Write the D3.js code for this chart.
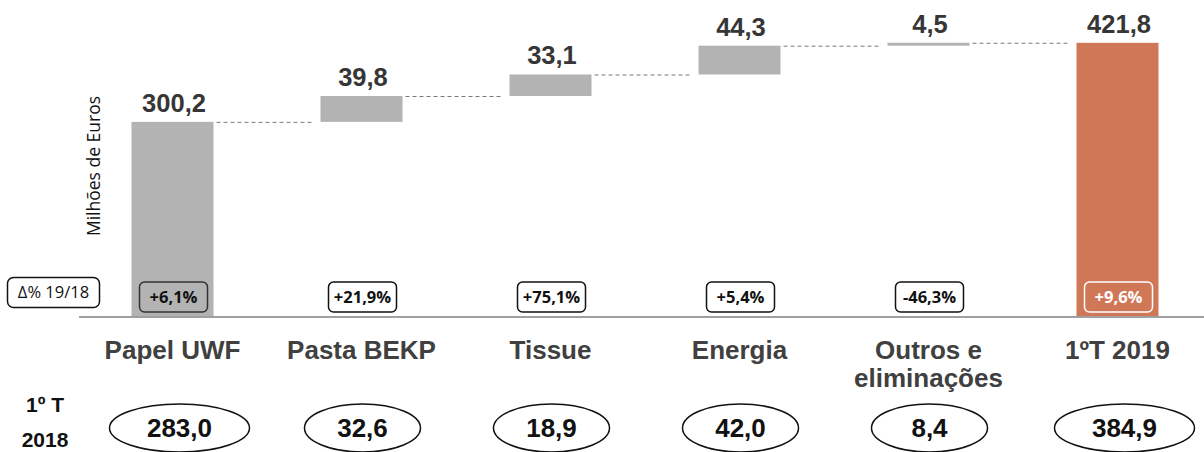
<!DOCTYPE html>
<html>
<head>
<meta charset="utf-8">
<script src="https://cdn.jsdelivr.net/npm/d3@7"></script>
<style>
  html, body { margin: 0; padding: 0; background: #fff; }
  svg { display: block; }
</style>
</head>
<body>
<svg id="chart" width="1204" height="452"></svg>
<script>
// Revenue bridge, 1ºT 2018 -> 1ºT 2019 (Milhões de Euros)
const categories = ["Papel UWF", "Pasta BEKP", "Tissue", "Energia", "Outros e eliminações", "1ºT 2019"];
const categoryLines = [["Papel UWF"], ["Pasta BEKP"], ["Tissue"], ["Energia"], ["Outros e", "eliminações"], ["1ºT 2019"]];
const values2019 = [300.2, 39.8, 33.1, 44.3, 4.5, 421.8];
const isTotal = [true, false, false, false, false, true];
const changeLabels = ["+6,1%", "+21,9%", "+75,1%", "+5,4%", "-46,3%", "+9,6%"];
const values2018 = [283.0, 32.6, 18.9, 42.0, 8.4, 384.9];
const yAxisTitle = "Milhões de Euros";
const changeTitle = "Δ% 19/18";
const prevPeriodLines = ["1º T", "2018"];

const locale = d3.formatLocale({ decimal: ",", thousands: ".", grouping: [3], currency: ["", " €"] });
const fmt = locale.format(".1f");

const svg = d3.select("#chart");
const W = 1204;
const baseY = 317;

const x = d3.scaleBand().domain(categories).range([78, 1212]).paddingInner(0.566).paddingOuter(0.283);
const y = d3.scaleLinear().domain([0, 480]).range([baseY, baseY - 480 * 0.65]);

// waterfall segments
let running = 0;
const segs = categories.map((c, i) => {
  let lo, hi;
  if (isTotal[i]) { lo = 0; hi = values2019[i]; running = hi; }
  else { lo = running; hi = running + values2019[i]; running = hi; }
  return { c, i, lo, hi, v: values2019[i], total: isTotal[i] };
});

const grey = "#b3b3b3";
const orange = "#d07758";

// connectors
const conn = svg.append("g");
segs.slice(0, -1).forEach((s, i) => {
  const n = segs[i + 1];
  conn.append("line")
    .attr("x1", x(s.c) + x.bandwidth() + 3)
    .attr("x2", x(n.c) - 6)
    .attr("y1", y(s.hi) + 0.5).attr("y2", y(s.hi) + 0.5)
    .attr("stroke", "#7a7a7a").attr("stroke-width", 1)
    .attr("stroke-dasharray", "4,3");
});

// bars
svg.append("g").selectAll("rect").data(segs).join("rect")
  .attr("x", d => x(d.c))
  .attr("width", x.bandwidth())
  .attr("y", d => y(d.hi))
  .attr("height", d => y(d.lo) - y(d.hi))
  .attr("fill", d => d.i === segs.length - 1 ? orange : grey);

// value labels
svg.append("g").selectAll("text").data(segs).join("text")
  .attr("x", d => x(d.c) + x.bandwidth() / 2 + 1.5)
  .attr("y", d => y(d.hi) - 10)
  .attr("text-anchor", "middle")
  .attr("font-family", "Liberation Sans, Arial, sans-serif")
  .attr("font-weight", "bold")
  .attr("font-size", 25.5)
  .attr("fill", "#363636")
  .text(d => fmt(d.v));

// baseline
svg.append("line")
  .attr("x1", 79).attr("x2", W)
  .attr("y1", baseY).attr("y2", baseY)
  .attr("stroke", "#a0a0a0").attr("stroke-width", 2);

// y axis title
svg.append("text")
  .attr("transform", `translate(100,166) rotate(-90)`)
  .attr("text-anchor", "middle")
  .attr("font-family", "Open Sans, sans-serif")
  .attr("font-size", 17.5)
  .attr("fill", "#111")
  .text(yAxisTitle);

// change boxes
const boxW = 68, boxH = 30, boxY = 282;
const chg = svg.append("g");
svg.append("rect")
  .attr("x", 7.5).attr("y", 277.5).attr("width", 92).attr("height", 30).attr("rx", 6)
  .attr("fill", "#fff").attr("stroke", "#111").attr("stroke-width", 1.5);
svg.append("text")
  .attr("x", 53.5).attr("y", 298)
  .attr("text-anchor", "middle")
  .attr("font-family", "Open Sans, sans-serif")
  .attr("font-size", 16.5)
  .attr("fill", "#111")
  .text(changeTitle);

segs.forEach((s, i) => {
  const cx = x(s.c) + x.bandwidth() / 2 + 1;
  const last = i === segs.length - 1;
  chg.append("rect")
    .attr("x", cx - boxW / 2).attr("y", boxY)
    .attr("width", boxW).attr("height", boxH).attr("rx", 5)
    .attr("fill", "none")
    .attr("stroke", last ? "#fff" : (s.total ? "#333" : "#111"))
    .attr("stroke-width", 1.5);
  chg.append("text")
    .attr("x", cx).attr("y", boxY + 21)
    .attr("text-anchor", "middle")
    .attr("font-family", "Open Sans, sans-serif")
    .attr("font-weight", "bold")
    .attr("font-size", 16.5)
    .attr("fill", last ? "#fff" : "#111")
    .text(changeLabels[i]);
});

// category labels
const cat = svg.append("g");
segs.forEach((s, i) => {
  const cx = x(s.c) + x.bandwidth() / 2;
  const t = cat.append("text")
    .attr("text-anchor", "middle")
    .attr("font-family", "Liberation Sans, Arial, sans-serif")
    .attr("font-weight", "bold")
    .attr("font-size", 26)
    .attr("fill", "#404040");
  categoryLines[i].forEach((line, k) => {
    t.append("tspan").attr("x", cx).attr("y", 359 + k * 28).text(line);
  });
});

// previous period ellipses
const prev = svg.append("g");
prevPeriodLines.forEach((line, k) => {
  prev.append("text")
    .attr("x", 45).attr("y", 412 + k * 35)
    .attr("text-anchor", "middle")
    .attr("font-family", "Liberation Sans, Arial, sans-serif")
    .attr("font-weight", "bold")
    .attr("font-size", 21)
    .attr("fill", "#111")
    .text(line);
});
segs.forEach((s, i) => {
  const label = fmt(values2018[i]);
  const cx = x(s.c) + x.bandwidth() / 2 + (label.length > 4 ? 7 : 1);
  const rx = label.length > 4 ? 70 : 58;
  prev.append("ellipse")
    .attr("cx", cx).attr("cy", 428)
    .attr("rx", rx).attr("ry", 24)
    .attr("fill", "none").attr("stroke", "#111").attr("stroke-width", 1.5);
  prev.append("text")
    .attr("x", cx).attr("y", 437)
    .attr("text-anchor", "middle")
    .attr("font-family", "Liberation Sans, Arial, sans-serif")
    .attr("font-weight", "bold")
    .attr("font-size", 26)
    .attr("fill", "#111")
    .text(label);
});
</script>
</body>
</html>
